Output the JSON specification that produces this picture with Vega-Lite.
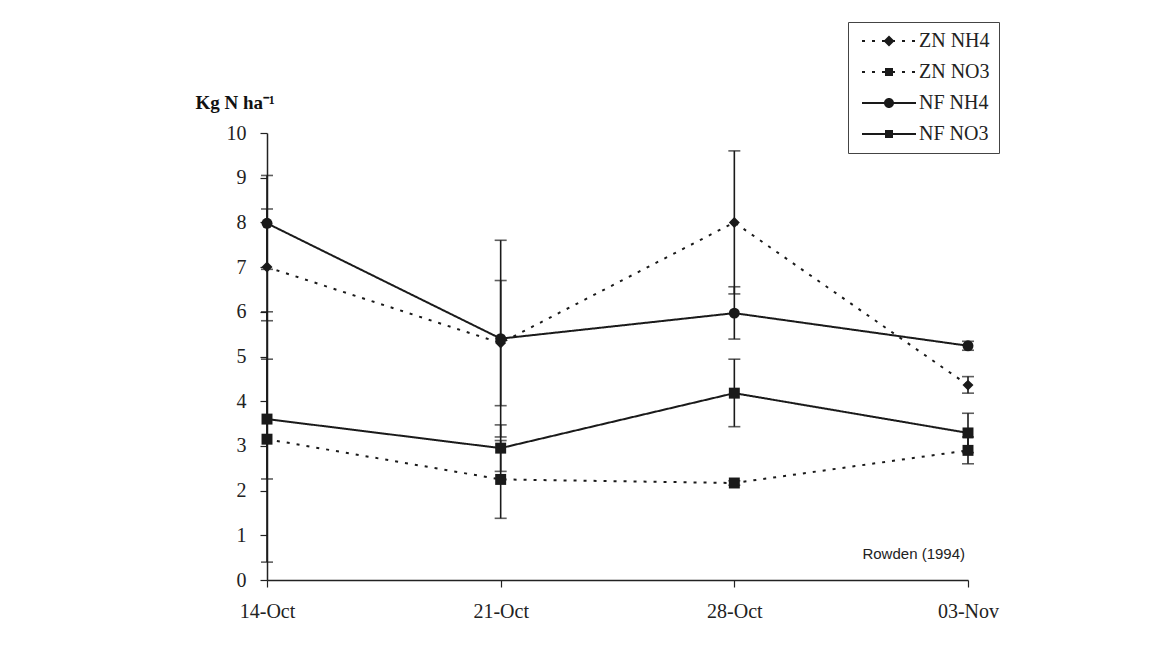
{
  "$schema": "https://vega.github.io/schema/vega-lite/v6.json",
  "width": 701,
  "height": 447,
  "autosize": {"type": "none"},
  "padding": {"left": 267, "top": 133, "right": 188, "bottom": 78},
  "background": "white",
  "config": {"view": {"stroke": null}, "font": "Liberation Serif"},
  "datasets": {
    "obs": [
      {"date": "14-Oct", "day": 0, "series": "ZN NH4", "value": 7.0, "lo": 5.8, "hi": 8.3},
      {"date": "14-Oct", "day": 0, "series": "ZN NO3", "value": 3.15, "lo": 0.4, "hi": 6.0},
      {"date": "14-Oct", "day": 0, "series": "NF NH4", "value": 7.98, "lo": 6.95, "hi": 9.05},
      {"date": "14-Oct", "day": 0, "series": "NF NO3", "value": 3.6, "lo": 2.26, "hi": 4.94},
      {"date": "21-Oct", "day": 7, "series": "ZN NH4", "value": 5.3, "lo": 3.9, "hi": 6.7},
      {"date": "21-Oct", "day": 7, "series": "ZN NO3", "value": 2.25, "lo": 1.38, "hi": 3.12},
      {"date": "21-Oct", "day": 7, "series": "NF NH4", "value": 5.4, "lo": 3.2, "hi": 7.6},
      {"date": "21-Oct", "day": 7, "series": "NF NO3", "value": 2.95, "lo": 2.43, "hi": 3.47},
      {"date": "28-Oct", "day": 14, "series": "ZN NH4", "value": 8.0, "lo": 6.4, "hi": 9.6},
      {"date": "28-Oct", "day": 14, "series": "ZN NO3", "value": 2.17, "lo": 2.12, "hi": 2.22},
      {"date": "28-Oct", "day": 14, "series": "NF NH4", "value": 5.97, "lo": 5.39, "hi": 6.56},
      {"date": "28-Oct", "day": 14, "series": "NF NO3", "value": 4.18, "lo": 3.43, "hi": 4.94},
      {"date": "03-Nov", "day": 20, "series": "ZN NH4", "value": 4.36, "lo": 4.18, "hi": 4.55},
      {"date": "03-Nov", "day": 20, "series": "ZN NO3", "value": 2.9, "lo": 2.6, "hi": 3.2},
      {"date": "03-Nov", "day": 20, "series": "NF NH4", "value": 5.24, "lo": 5.14, "hi": 5.34},
      {"date": "03-Nov", "day": 20, "series": "NF NO3", "value": 3.29, "lo": 2.85, "hi": 3.73}
    ],
    "note": [
      {"date": "03-Nov", "y": 0.58, "label": "Rowden (1994)"}
    ]
  },
  "encoding": {
    "x": {
      "field": "date",
      "type": "ordinal",
      "sort": ["14-Oct", "21-Oct", "28-Oct", "03-Nov"],
      "scale": {"type": "point", "padding": 0},
      "axis": {
        "title": null,
        "labelAngle": 0,
        "labelFont": "Liberation Serif",
        "labelFontSize": 20,
        "labelColor": "#222",
        "labelPadding": 14,
        "tickSize": 7,
        "tickColor": "#222",
        "tickWidth": 1.2,
        "domainColor": "#222",
        "domainWidth": 1.5,
        "grid": false
      }
    }
  },
  "layer": [
    {
      "data": {"name": "obs"},
      "mark": {"type": "rule", "color": "#1a1a1a", "strokeWidth": 1.6},
      "encoding": {
        "y": {
          "field": "lo",
          "type": "quantitative",
          "scale": {"domain": [0, 10], "nice": false},
          "axis": {
            "values": [0, 1, 2, 3, 4, 5, 6, 7, 8, 9, 10],
            "title": "Kg N ha⁻¹",
            "titleAngle": 0,
            "titleX": -72,
            "titleY": -25,
            "titleAlign": "left",
            "titleBaseline": "alphabetic",
            "titleFont": "Liberation Serif",
            "titleFontSize": 19,
            "titleFontWeight": "bold",
            "titleColor": "#111",
            "labelFont": "Liberation Serif",
            "labelFontSize": 20,
            "labelColor": "#222",
            "labelPadding": 14,
            "tickSize": 7,
            "tickColor": "#222",
            "tickWidth": 1.2,
            "domainColor": "#222",
            "domainWidth": 1.5,
            "grid": false
          }
        },
        "y2": {"field": "hi"}
      }
    },
    {
      "data": {"name": "obs"},
      "mark": {"type": "tick", "orient": "horizontal", "size": 12, "thickness": 1.6, "color": "#1a1a1a"},
      "encoding": {"y": {"field": "lo", "type": "quantitative"}}
    },
    {
      "data": {"name": "obs"},
      "mark": {"type": "tick", "orient": "horizontal", "size": 12, "thickness": 1.6, "color": "#1a1a1a"},
      "encoding": {"y": {"field": "hi", "type": "quantitative"}}
    },
    {
      "data": {"name": "obs"},
      "mark": {"type": "line", "color": "#1a1a1a", "strokeWidth": 2},
      "encoding": {
        "y": {"field": "value", "type": "quantitative"},
        "detail": {"field": "series"},
        "order": {"field": "day"},
        "strokeDash": {
          "field": "series",
          "type": "nominal",
          "scale": {"domain": ["ZN NH4", "ZN NO3", "NF NH4", "NF NO3"], "range": [[3, 7], [3, 7], [1, 0], [1, 0]]},
          "legend": {
            "title": null,
            "orient": "none",
            "legendX": 581,
            "legendY": -111,
            "padding": 9,
            "labelFont": "Liberation Serif",
            "labelFontSize": 20,
            "labelColor": "#222",
            "labelOpacity": 0,
            "labelOffset": 42,
            "rowPadding": 11,
            "symbolType": "M-1,0L9.8,0",
            "symbolSize": 100,
            "symbolStrokeWidth": 1.8,
            "symbolStrokeColor": "#1a1a1a"
          }
        }
      }
    },
    {
      "data": {"name": "obs"},
      "mark": {"type": "point", "filled": true, "color": "#1a1a1a", "opacity": 1, "size": 120},
      "encoding": {
        "y": {"field": "value", "type": "quantitative"},
        "shape": {
          "field": "series",
          "type": "nominal",
          "scale": {"domain": ["ZN NH4", "ZN NO3", "NF NH4", "NF NO3"], "range": ["diamond", "square", "circle", "square"]},
          "legend": null
        }
      }
    },
    {
      "data": {"name": "obs"},
      "mark": {"type": "point", "filled": true, "color": "#1a1a1a", "opacity": 0, "size": 100},
      "encoding": {
        "y": {"field": "value", "type": "quantitative"},
        "shape": {
          "field": "series",
          "type": "nominal",
          "scale": {
            "domain": ["ZN NH4", "ZN NO3", "NF NH4", "NF NO3"],
            "range": [
              "M-1,0L9.8,0M4.4,-1.1L5.5,0L4.4,1.1L3.3,0Z",
              "M-1,0L9.8,0M3.6,-0.8L5.2,-0.8L5.2,0.8L3.6,0.8Z",
              "M-1,0L9.8,0M3.4,0A1,1 0 1,1 5.4,0A1,1 0 1,1 3.4,0Z",
              "M-1,0L9.8,0M3.6,-0.8L5.2,-0.8L5.2,0.8L3.6,0.8Z"
            ]
          },
          "legend": {
            "title": null,
            "orient": "none",
            "legendX": 581,
            "legendY": -111,
            "padding": 9,
            "strokeColor": "#444",
            "labelFont": "Liberation Serif",
            "labelFontSize": 20,
            "labelColor": "#222",
            "labelOffset": 42,
            "rowPadding": 11,
            "symbolSize": 100,
            "symbolFillColor": "#1a1a1a",
            "symbolOpacity": 1
          }
        }
      }
    },
    {
      "data": {"name": "note"},
      "mark": {"type": "text", "align": "right", "baseline": "middle", "dx": -3, "font": "Liberation Sans", "fontSize": 15, "color": "#222"},
      "encoding": {
        "y": {"field": "y", "type": "quantitative"},
        "text": {"field": "label"}
      }
    }
  ],
  "resolve": {"scale": {"shape": "independent"}}
}
